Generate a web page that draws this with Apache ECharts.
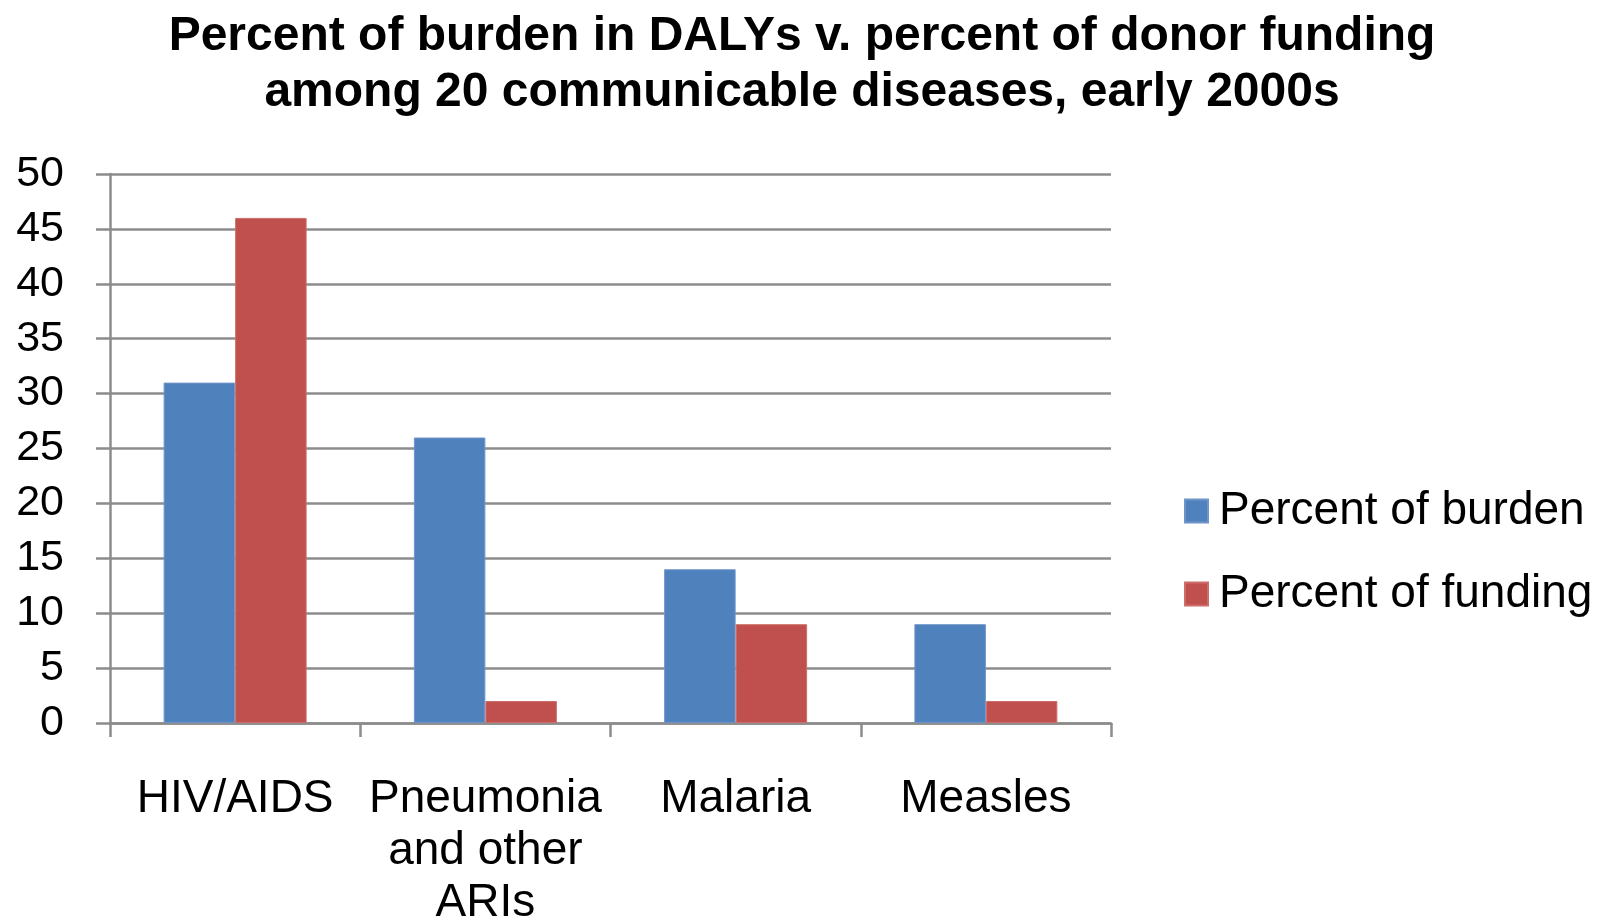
<!DOCTYPE html>
<html>
<head>
<meta charset="utf-8">
<script src="https://cdn.jsdelivr.net/npm/echarts@6/dist/echarts.min.js"></script>
<style>
  html, body { margin: 0; padding: 0; background: #fff; }
  #main { width: 1608px; height: 916px; }
</style>
</head>
<body>
<div id="main"></div>
<script>
// data
var categories = ['HIV/AIDS', 'Pneumonia\nand other\nARIs', 'Malaria', 'Measles'];
var burden = [31, 26, 14, 9];
var funding = [46, 2, 9, 2];
var seriesNames = ['Percent of burden', 'Percent of funding'];
var titleLines = 'Percent of burden in DALYs v. percent of donor funding\namong 20 communicable diseases, early 2000s';

var myChart = echarts.init(document.getElementById('main'));
var font = '"Liberation Sans", Arial, sans-serif';

var option = {
  animation: false,
  backgroundColor: '#fff',
  color: ['#4F81BD', '#C0504D'],
  title: {
    text: titleLines,
    left: 802,
    top: 9,
    padding: 0,
    textAlign: 'center',
    textStyle: {
      fontFamily: font,
      fontSize: 48,
      fontWeight: 'bold',
      lineHeight: 56,
      color: '#000'
    }
  },
  legend: {
    orient: 'vertical',
    left: 1184,
    top: 488,
    padding: 0,
    itemWidth: 23,
    itemHeight: 23,
    itemGap: 37,
    icon: 'rect',
    textStyle: {
      fontFamily: font,
      fontSize: 46,
      lineHeight: 45,
      color: '#000',
      padding: [0, 0, 0, 6]
    },
    data: seriesNames
  },
  grid: {
    left: 110,
    right: 497,
    top: 174,
    bottom: 193,
    containLabel: false,
    outerBoundsMode: 'none'
  },
  xAxis: {
    type: 'category',
    data: categories,
    axisLine: { lineStyle: { color: '#8c8c8c', width: 2.5 } },
    axisTick: { show: true, length: 14, alignWithLabel: false, lineStyle: { color: '#8c8c8c', width: 2.5 } },
    axisLabel: {
      margin: 50,
      interval: 0,
      fontFamily: font,
      fontSize: 46,
      lineHeight: 52,
      color: '#000'
    }
  },
  yAxis: {
    type: 'value',
    min: 0,
    max: 50,
    interval: 5,
    axisLine: { show: true, lineStyle: { color: '#8c8c8c', width: 2.5 } },
    axisTick: { show: true, length: 14, lineStyle: { color: '#8c8c8c', width: 2.5 } },
    splitLine: { lineStyle: { color: '#8c8c8c', width: 2.5 } },
    axisLabel: {
      margin: 46,
      fontFamily: font,
      fontSize: 43,
      color: '#000'
    }
  },
  series: [
    {
      name: seriesNames[0],
      type: 'bar',
      data: burden,
      barGap: '0%',
      barCategoryGap: '42.86%',
      itemStyle: { borderColor: '#6f95c8', borderWidth: 1 }
    },
    {
      name: seriesNames[1],
      type: 'bar',
      data: funding,
      itemStyle: { borderColor: '#cd6d6a', borderWidth: 1 }
    }
  ]
};

myChart.setOption(option);
</script>
</body>
</html>
